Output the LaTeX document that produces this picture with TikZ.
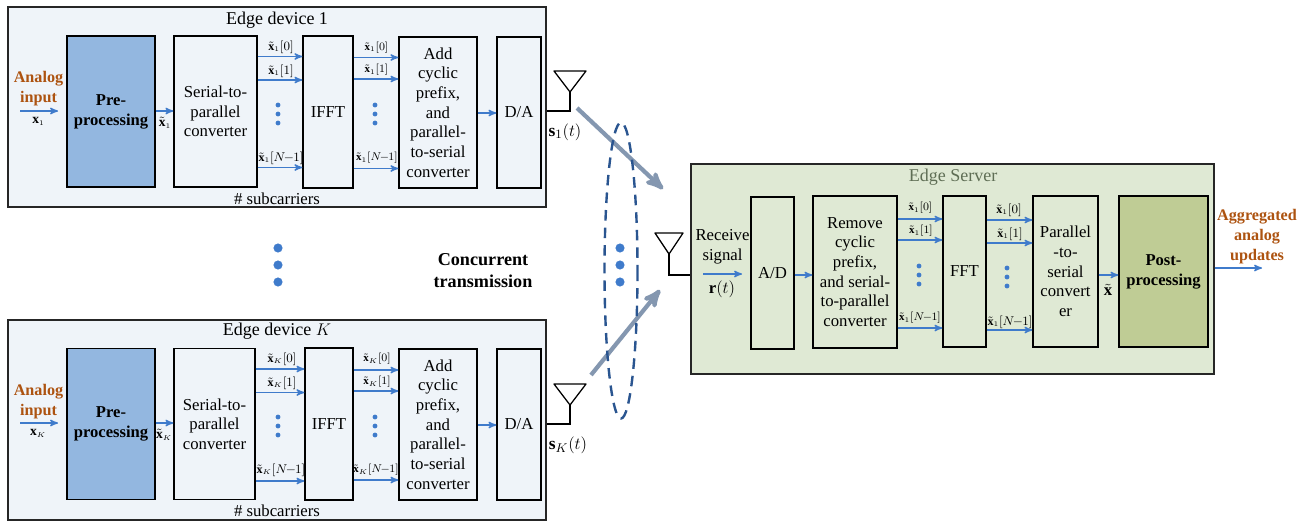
\documentclass[tikz,border=0pt]{standalone}
\usepackage{fontspec}
\setmainfont{Liberation Serif}
\usepackage{tkz-euclide}
\usetikzlibrary{arrows,calc}

\definecolor{devfill}{HTML}{EFF4F9}
\definecolor{prefill}{HTML}{93B7E0}
\definecolor{srvfill}{HTML}{DFE9D4}
\definecolor{postfill}{HTML}{BFCC95}
\definecolor{sigblue}{HTML}{3F7BCB}
\definecolor{wavegray}{HTML}{8497B0}
\definecolor{ovalblue}{HTML}{2A5590}
\definecolor{inbrown}{HTML}{AD5310}
\definecolor{srvtitle}{HTML}{5F6E55}

\newcommand{\sbc}[2]{$\tilde{\mathbf{x}}_{\scriptscriptstyle #1}[#2]$}
\newcommand{\lastc}{N\mkern-2mu{-}\mkern-1mu1}

\tikzset{
  wh/.style 2 args={minimum width=#1*0.025cm,minimum height=#2*0.025cm},
  outerbox/.style={draw=black!85,line width=0.9pt,inner sep=0pt},
  blockbox/.style={draw=black,line width=1pt,fill=devfill,inner sep=0pt,align=center,
    font=\fontsize{11.9}{14}\selectfont},
  srvbox/.style={blockbox,fill=srvfill},
  boldbox/.style={blockbox,font=\fontsize{11.8}{14.2}\selectfont\bfseries},
  plainlab/.style={inner sep=0pt,align=center,font=\fontsize{11.9}{14.2}\selectfont},
  titlelab/.style={inner sep=0pt,font=\fontsize{12.8}{15}\selectfont},
  boldlab/.style={inner sep=0pt,align=center,text=inbrown,font=\fontsize{11.5}{14.2}\selectfont\bfseries},
  conclab/.style={boldlab,text=black,font=\fontsize{12.9}{15.6}\selectfont\bfseries},
  veclab/.style={inner sep=0pt,font=\fontsize{9.6}{11}\selectfont},
  carbig/.style={inner sep=0pt,font=\fontsize{8.6}{10}\selectfont},
  carsmall/.style={inner sep=0pt,font=\fontsize{7.8}{10}\selectfont},
  sigline/.style={draw=sigblue,line width=1pt,-stealth'},
  wavearrow/.style={draw=wavegray,line width=3pt,-stealth'},
}

\begin{document}
\begin{tikzpicture}[x=.025cm,y=-.025cm]
\useasboundingbox (0,0) rectangle (1312,521);
\tkzSetUpLine[line width=0.8pt,color=black]

% rows of the subcarrier arrows
\tkzDefPoints{0/56.5/ra,0/80/rb,0/167.5/rc,0/57.5/sa,0/79/sb,0/168.5/sc}
\tkzDefPoints{0/369/ka,0/392.5/kb,0/481/kc,0/370/la,0/391/lb,0/480/lc}
\tkzDefPoints{0/219/ma,0/240/mb,0/328/mc,0/220/na,0/243/nb,0/330/nc}
\tkzDefPoints{0/111/ri,0/423/ki,0/113/rd,0/425/kd,0/275/mi,0/268/mo}

% edge device 1
\node[outerbox,fill=devfill,wh={538}{200}] (dev1) at (277,107) {};
\node[titlelab] (dev1title) at (277,20) {Edge device 1};
\node[boldbox,fill=prefill,wh={88}{151}] (pre1) at (111,111.5) {Pre-\\processing};
\node[blockbox,wh={83}{151}] (sp1) at (215.5,111.5) {Serial-to-\\parallel\\converter};
\node[blockbox,wh={50}{152}] (ifft1) at (328,112) {IFFT};
\node[blockbox,wh={78}{151}] (add1) at (438,112.5) {Add\\cyclic\\prefix,\\and\\parallel-\\to-serial\\converter};
\node[blockbox,wh={44}{151}] (da1) at (519,112.5) {D/A};
\node[plainlab] (sub1) at (277,199) {\# subcarriers};
\node[boldlab] (in1) at (38.5,89) {Analog\\input};
\node[veclab] (x1) at (38.5,121) {$\mathbf{x}_{\scriptscriptstyle 1}$};
\node[veclab] (xt1) at (165,123) {$\tilde{\mathbf{x}}_{\scriptscriptstyle 1}$};
\tkzDefPoints{20/111/ina}
\draw[sigline] (ina) -- ++(38,0);
\draw[sigline] (pre1.east |- ri) -- (sp1.west |- ri);
\draw[sigline] (add1.east |- rd) -- (da1.west |- rd);
\draw[sigline] (sp1.east |- ra) -- (ifft1.west |- ra);
\draw[sigline] (sp1.east |- rb) -- (ifft1.west |- rb);
\draw[sigline] (sp1.east |- rc) -- (ifft1.west |- rc);
\draw[sigline] (ifft1.east |- sa) -- (add1.west |- sa);
\draw[sigline] (ifft1.east |- sb) -- (add1.west |- sb);
\draw[sigline] (ifft1.east |- sc) -- (add1.west |- sc);
\node[carbig] (c1a) at (281,47) {\sbc{1}{0}};
\node[carbig] (c1b) at (281,71) {\sbc{1}{1}};
\node[carbig] (c1c) at (281,158) {\sbc{1}{\lastc}};
\node[carsmall] (d1a) at (376.5,47.5) {\sbc{1}{0}};
\node[carsmall] (d1b) at (376.5,70) {\sbc{1}{1}};
\node[carsmall] (d1c) at (377,158) {\sbc{1}{\lastc}};

% edge device K
\node[outerbox,fill=devfill,wh={538}{200}] (devK) at (277,420) {};
\node[titlelab] (devKtitle) at (277,331) {Edge device $K$};
\node[boldbox,fill=prefill,wh={88}{151}] (preK) at (111,424) {Pre-\\processing};
\node[blockbox,wh={81}{151}] (spK) at (214.5,424) {Serial-to-\\parallel\\converter};
\node[blockbox,wh={48}{152}] (ifftK) at (329,424) {IFFT};
\node[blockbox,wh={78}{151}] (addK) at (438,424.5) {Add\\cyclic\\prefix,\\and\\parallel-\\to-serial\\converter};
\node[blockbox,wh={44}{151}] (daK) at (519,424.5) {D/A};
\node[plainlab] (subK) at (277,511) {\# subcarriers};
\node[boldlab] (inK) at (38.5,402) {Analog\\input};
\node[veclab] (xK) at (38,433) {$\mathbf{x}_{\scriptscriptstyle K}$};
\node[veclab] (xtK) at (164,435) {$\tilde{\mathbf{x}}_{\scriptscriptstyle K}$};
\tkzDefPoints{20/423/inb}
\draw[sigline] (inb) -- ++(38,0);
\draw[sigline] (preK.east |- ki) -- (spK.west |- ki);
\draw[sigline] (addK.east |- kd) -- (daK.west |- kd);
\draw[sigline] (spK.east |- ka) -- (ifftK.west |- ka);
\draw[sigline] (spK.east |- kb) -- (ifftK.west |- kb);
\draw[sigline] (spK.east |- kc) -- (ifftK.west |- kc);
\draw[sigline] (ifftK.east |- la) -- (addK.west |- la);
\draw[sigline] (ifftK.east |- lb) -- (addK.west |- lb);
\draw[sigline] (ifftK.east |- lc) -- (addK.west |- lc);
\node[carbig] (cKa) at (282,359) {\sbc{K}{0}};
\node[carbig] (cKb) at (282,383) {\sbc{K}{1}};
\node[carbig] (cKc) at (281,470) {\sbc{K}{\lastc}};
\node[carsmall] (dKa) at (377,359) {\sbc{K}{0}};
\node[carsmall] (dKb) at (377,382) {\sbc{K}{1}};
\node[carsmall] (dKc) at (376,470) {\sbc{K}{\lastc}};

% edge server
\node[outerbox,fill=srvfill,wh={523}{210}] (srv) at (952.5,269) {};
\node[titlelab,text=srvtitle] (srvtitle) at (953,177) {Edge Server};
\node[srvbox,wh={43}{152}] (ad) at (772.5,273) {A/D};
\node[srvbox,wh={84}{152}] (rem) at (855,272) {Remove\\cyclic\\prefix,\\and serial-\\to-parallel\\converter};
\node[srvbox,wh={43}{151}] (fft) at (964.5,271.5) {FFT};
\node[srvbox,wh={65}{151}] (par) at (1065.5,271.5) {Parallel\\-to-\\serial\\convert\\er};
\node[boldbox,fill=postfill,wh={89}{151}] (post) at (1163.5,271.5) {Post-\\processing};
\node[plainlab] (rsig) at (722.5,247) {Receive\\signal};
\node[plainlab] (rt) at (722,289) {$\mathbf{r}(t)$};
\node[plainlab] (xbar) at (1108,290) {$\tilde{\mathbf{x}}$};
\node[boldlab] (outlab) at (1257,237) {Aggregated\\analog\\updates};
\tkzDefPoints{703/274/inc,1262/268/outa}
\draw[sigline] (inc) -- ++(39,0);
\draw[sigline] (ad.east |- mi) -- (rem.west |- mi);
\draw[sigline] (par.east |- mi) -- (post.west |- mi);
\draw[sigline] (srv.east |- mo) -- (outa);
\draw[sigline] (rem.east |- ma) -- (fft.west |- ma);
\draw[sigline] (rem.east |- mb) -- (fft.west |- mb);
\draw[sigline] (rem.east |- mc) -- (fft.west |- mc);
\draw[sigline] (fft.east |- na) -- (par.west |- na);
\draw[sigline] (fft.east |- nb) -- (par.west |- nb);
\draw[sigline] (fft.east |- nc) -- (par.west |- nc);
\node[carsmall] (ea) at (920.5,208) {\sbc{1}{0}};
\node[carsmall] (eb) at (921,231) {\sbc{1}{1}};
\node[carsmall] (ec) at (920,318) {\sbc{1}{\lastc}};
\node[carbig] (fa) at (1009,210) {\sbc{1}{0}};
\node[carbig] (fb) at (1010,234) {\sbc{1}{1}};
\node[carbig] (fc) at (1010,322) {\sbc{1}{\lastc}};

% antennas
\tkzDefPoints{554/71/aa,586/71/ab,570/92/ac,570/111/ad}
\tkzDefPoints{554/384/ba,586/384/bb,570/405/bc,570/424/bd}
\tkzDefPoints{655/233/ca,683/233/cb,669/254/cc,669/275/cd}
\tkzDrawPolygon[line width=0.9pt](aa,ab,ac)
\tkzDrawPolygon[line width=0.9pt](ba,bb,bc)
\tkzDrawPolygon[line width=0.9pt](ca,cb,cc)
\draw[line width=0.8pt] (ac) -- (ad) -- (dev1.east |- ad);
\draw[line width=0.8pt] (bc) -- (bd) -- (devK.east |- bd);
\draw[line width=0.8pt] (cc) -- (cd) -- (srv.west |- cd);
\node[plainlab,font=\fontsize{12.4}{14}\selectfont] (s1) at (565,132) {$\mathbf{s}_{1}(t)$};
\node[plainlab,font=\fontsize{12.4}{14}\selectfont] (sK) at (568,445) {$\mathbf{s}_{K}(t)$};

% transmission
\tkzDefPoints{577/108/wa,663/189/wb,591/375/wc,660/290/wd,621/270.5/ov}
\draw[wavearrow] (wa) -- (wb);
\draw[wavearrow] (wc) -- (wd);
\draw[draw=ovalblue,line width=1.7pt,dash pattern=on 7.5pt off 5pt] (ov) ellipse [x radius=16.5,y radius=148];
\node[conclab] (conc) at (483,271) {Concurrent\\transmission};

% dots
\tkzSetUpPoint[color=sigblue,fill=sigblue]
\tkzDefPoints{278/248/pa,278/265/pb,278/282/pc,620/248/qa,620/265/qb,620/282/qc}
\tkzDrawPoints[size=6](pa,pb,pc,qa,qb,qc)
\tkzDefPoints{278/105/ea1,278/114/ea2,278/123/ea3,375/105/eb1,375/114/eb2,375/123/eb3}
\tkzDefPoints{278/417/ec1,278/426/ec2,278/435/ec3,375/417/ed1,375/426/ed2,375/435/ed3}
\tkzDefPoints{919/266/ee1,919/275/ee2,919/284/ee3,1007/268/ef1,1007/277/ef2,1007/286/ef3}
\tkzDrawPoints[size=3](ea1,ea2,ea3,eb1,eb2,eb3,ec1,ec2,ec3,ed1,ed2,ed3,ee1,ee2,ee3,ef1,ef2,ef3)

\end{tikzpicture}
\end{document}
